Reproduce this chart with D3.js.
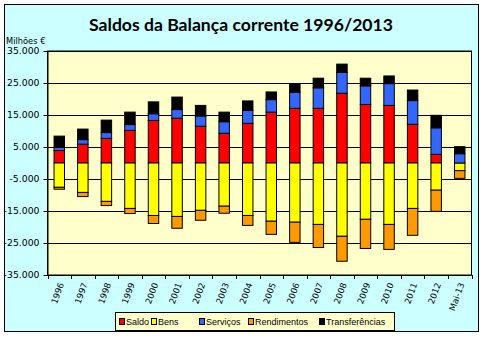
<!DOCTYPE html>
<html>
<head>
<meta charset="utf-8">
<script src="https://cdnjs.cloudflare.com/ajax/libs/d3/7.8.5/d3.min.js"></script>
<style>
  html, body { margin: 0; padding: 0; background: #ffffff; }
  svg { display: block; }
</style>
</head>
<body>
<svg id="chart" width="490" height="341"></svg>
<script>
// Current account balances, Portugal, millions of euros
const categories = ["1996","1997","1998","1999","2000","2001","2002","2003","2004","2005","2006","2007","2008","2009","2010","2011","2012","Mai-13"];
const saldo          = [3.9, 5.9, 7.7, 10.2, 13.3, 14.0, 11.5, 9.3, 12.4, 15.9, 17.1, 17.1, 21.8, 18.3, 18.0, 12.1, 2.7, 0].map(v => v * 1000);
const bens           = [-7.6, -9.2, -12.0, -14.2, -16.4, -16.7, -14.8, -13.5, -16.4, -18.2, -18.5, -19.2, -22.9, -17.6, -19.2, -14.2, -8.5, -2.4].map(v => v * 1000);
const servicos       = [1.0, 1.4, 1.8, 1.8, 2.1, 2.7, 3.2, 3.6, 4.0, 3.9, 5.0, 6.4, 6.5, 5.8, 6.8, 7.4, 8.3, 2.9].map(v => v * 1000);
const rendimentos    = [-0.6, -1.3, -1.3, -1.6, -2.5, -3.7, -3.1, -2.2, -3.1, -4.1, -6.3, -7.2, -7.8, -9.1, -7.8, -8.4, -6.6, -2.4].map(v => v * 1000);
const transferencias = [3.5, 3.3, 3.9, 3.9, 3.7, 3.9, 3.3, 3.0, 3.0, 2.4, 2.7, 3.0, 2.6, 2.4, 2.4, 3.3, 3.9, 2.2].map(v => v * 1000);
const seriesNames  = ["Saldo", "Bens", "Serviços", "Rendimentos", "Transferências"];
const seriesColors = ["#ff0000", "#ffff00", "#3366ff", "#ff9900", "#000000"];
const yTicks = [35000, 25000, 15000, 5000, -5000, -15000, -25000, -35000];

const seriesValues = [saldo, bens, servicos, rendimentos, transferencias];
const rows = categories.map((c, i) => {
  const r = { cat: c };
  seriesNames.forEach((s, k) => { r[s] = seriesValues[k][i]; });
  return r;
});

const svg = d3.select("#chart");
const font = "'DejaVu Sans', sans-serif";

// chart frame
svg.append("rect").attr("x", 4.5).attr("y", 4.5).attr("width", 474).attr("height", 327)
  .attr("fill", "#ccffff").attr("stroke", "#000").attr("stroke-width", 1);

const plot = { left: 47.5, right: 471.5, top: 51, bottom: 275 };

const x = d3.scaleBand().domain(categories)
  .range([plot.left, plot.right])
  .paddingInner(1.25 / 2.25).paddingOuter(0.625 / 2.25);
const y = d3.scaleLinear().domain([-35000, 35000]).range([plot.bottom, plot.top]);

// plot area
svg.append("rect").attr("x", plot.left).attr("y", plot.top)
  .attr("width", plot.right - plot.left).attr("height", plot.bottom - plot.top)
  .attr("fill", "#ffffcc").attr("stroke", "#000").attr("stroke-width", 1);

// gridlines
svg.append("g").selectAll("line").data(yTicks).join("line")
  .attr("x1", plot.left).attr("x2", plot.right)
  .attr("y1", d => Math.round(y(d)) + 0.5).attr("y2", d => Math.round(y(d)) + 0.5)
  .attr("stroke", "#000").attr("stroke-width", 1);

// y axis
const pt = d3.formatLocale({ decimal: ",", thousands: ".", grouping: [3], currency: ["", " €"], minus: "-" });
const yAxis = d3.axisLeft(y).tickValues(yTicks).tickFormat(pt.format(",d")).tickSizeInner(4).tickSizeOuter(0).tickPadding(4);
const gy = svg.append("g").attr("transform", `translate(${plot.left},0)`).call(yAxis);
gy.select(".domain").attr("stroke", "#000");
gy.selectAll(".tick line").attr("stroke", "#000");
gy.selectAll(".tick text").attr("font-family", font).attr("font-size", 9.3).attr("fill", "#000");

// x axis: ticks on category boundaries
const step = x.step();
const bounds = d3.range(categories.length + 1).map(i => plot.left + i * step);
svg.append("g").selectAll("line").data(bounds).join("line")
  .attr("x1", d => Math.round(d) + 0.5).attr("x2", d => Math.round(d) + 0.5)
  .attr("y1", plot.bottom).attr("y2", plot.bottom + 4)
  .attr("stroke", "#000");

svg.append("g").selectAll("text").data(categories).join("text")
  .attr("transform", d => `translate(${x(d) + x.bandwidth() / 2 + 2},${plot.bottom + 8}) rotate(-70)`)
  .attr("text-anchor", "end").attr("dy", "0.35em")
  .attr("font-family", font).attr("font-size", 8.6).attr("fill", "#000")
  .text(d => d);

// stacked bars
const stack = d3.stack().keys(seriesNames).offset(d3.stackOffsetDiverging);
const layers = stack(rows);
svg.append("g").selectAll("g").data(layers).join("g")
  .attr("fill", (d, i) => seriesColors[i])
  .selectAll("rect").data(d => d.filter(p => p[1] !== p[0])).join("rect")
  .attr("x", d => x(d.data.cat))
  .attr("width", x.bandwidth())
  .attr("y", d => y(Math.max(d[0], d[1])))
  .attr("height", d => Math.abs(y(d[0]) - y(d[1])))
  .attr("stroke", "#000").attr("stroke-width", 1);

// title
svg.append("text").attr("x", 241).attr("y", 31).attr("text-anchor", "middle")
  .attr("font-family", "Lato, sans-serif").attr("font-weight", "bold").attr("font-size", 17.6)
  .attr("fill", "#000").text("Saldos da Balança corrente 1996/2013");

// unit label
svg.append("text").attr("x", 6).attr("y", 44)
  .attr("font-family", font).attr("font-size", 8.3).attr("fill", "#000")
  .text("Milhões €");

// legend
const legend = svg.append("g");
legend.append("rect").attr("x", 115.5).attr("y", 312.5).attr("width", 279).attr("height", 18)
  .attr("fill", "#ffffcc").attr("stroke", "#000");
const legendX = [119, 151, 199, 248, 319];
seriesNames.forEach((s, i) => {
  legend.append("rect").attr("x", legendX[i] + 0.5).attr("y", 318.5).attr("width", 5).attr("height", 6)
    .attr("fill", seriesColors[i]).attr("stroke", "#000");
  legend.append("text").attr("x", legendX[i] + 7).attr("y", 325)
    .attr("font-family", "'Liberation Sans', sans-serif").attr("font-size", 9).attr("fill", "#000")
    .text(s);
});
</script>
</body>
</html>
